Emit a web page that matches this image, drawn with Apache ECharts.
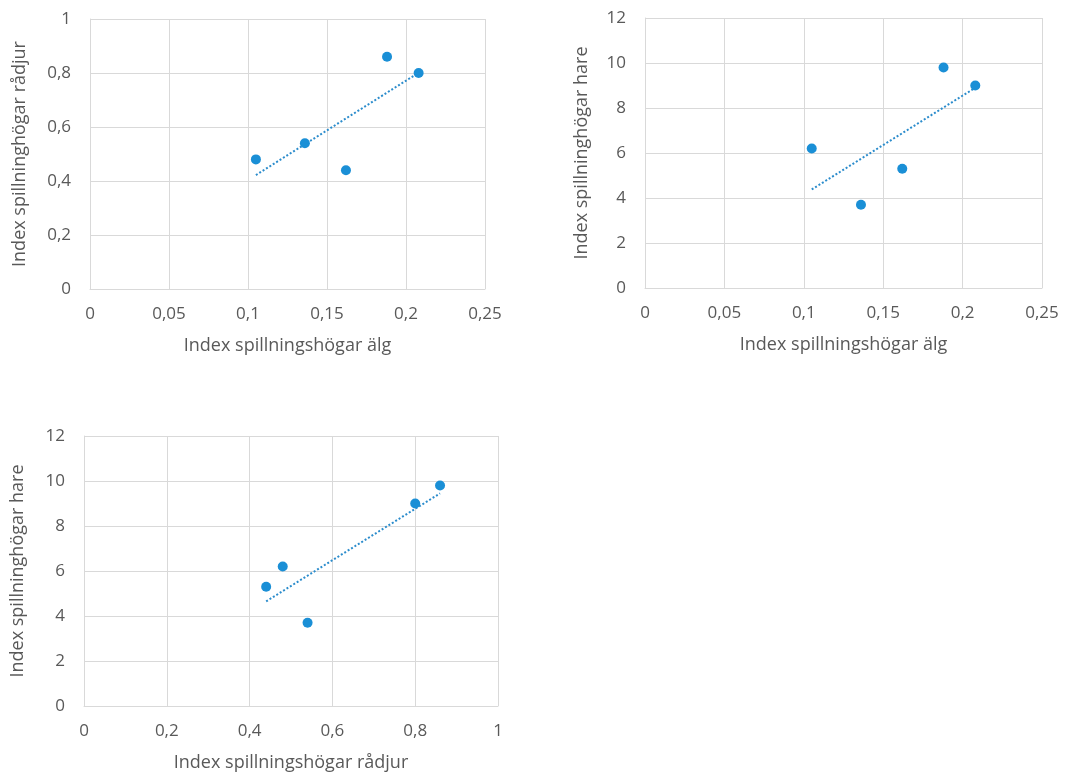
<!DOCTYPE html>
<html>
<head>
<meta charset="utf-8">
<script src="https://cdn.jsdelivr.net/npm/echarts@6/dist/echarts.min.js"></script>
<style>
  html, body { margin: 0; padding: 0; background: #fff; }
  #main { width: 1072px; height: 774px; }
</style>
</head>
<body>
<div id="main"></div>
<script>
  // index values per site
  var alg = [0.105, 0.136, 0.162, 0.188, 0.208];
  var radjur = [0.48, 0.54, 0.44, 0.86, 0.80];
  var hare = [6.2, 3.7, 5.3, 9.8, 9.0];

  // trend line end points (x0, y0, x1, y1) as drawn in the picture
  var trendAlgRadjur = [0.105, 0.422, 0.208, 0.801];
  var trendAlgHare = [0.105, 4.38, 0.208, 8.90];
  var trendRadjurHare = [0.44, 4.65, 0.86, 9.45];

  var titleAlg = 'Index spillningshögar älg';
  var titleRadjurX = 'Index spillningshögar rådjur';
  var titleRadjurY = 'Index spillninghögar rådjur';
  var titleHare = 'Index spillninghögar hare';

  var textColor = '#595959';
  var gridColor = '#d9d9d9';
  var dotColor = '#1a8fd6';
  var fontFamily = 'Open Sans';

  function fmt(v) {
    return String(v).replace('.', ',');
  }

  function pairs(xs, ys) {
    var out = [];
    for (var i = 0; i < xs.length; i++) out.push([xs[i], ys[i]]);
    return out;
  }

  function xAxis(gi, max, interval, name) {
    return {
      type: 'value', gridIndex: gi, min: 0, max: max, interval: interval,
      name: name, nameLocation: 'middle', nameGap: 48,
      nameTextStyle: { color: textColor, fontSize: 18, fontFamily: fontFamily },
      axisLine: { show: true, lineStyle: { color: gridColor } },
      axisTick: { show: false },
      splitLine: { lineStyle: { color: gridColor } },
      axisLabel: { color: textColor, fontSize: 17, fontFamily: fontFamily, margin: 17, formatter: fmt }
    };
  }

  function yAxis(gi, max, interval, name, gap) {
    return {
      type: 'value', gridIndex: gi, min: 0, max: max, interval: interval,
      name: name, nameLocation: 'middle', nameGap: gap,
      nameTextStyle: { color: textColor, fontSize: 18, fontFamily: fontFamily },
      axisLine: { show: true, lineStyle: { color: gridColor } },
      axisTick: { show: false },
      splitLine: { lineStyle: { color: gridColor } },
      axisLabel: { color: textColor, fontSize: 17, fontFamily: fontFamily, margin: 19, formatter: fmt }
    };
  }

  function scatter(gi, data) {
    return {
      type: 'scatter', xAxisIndex: gi, yAxisIndex: gi, data: data,
      symbolSize: 10, itemStyle: { color: dotColor, opacity: 1 }, z: 3
    };
  }

  function trend(gi, t) {
    return {
      type: 'line', xAxisIndex: gi, yAxisIndex: gi,
      data: [[t[0], t[1]], [t[2], t[3]]],
      symbol: 'none', z: 2,
      lineStyle: { color: '#2b8ccc', width: 2, type: [2, 2] }
    };
  }

  var chart = echarts.init(document.getElementById('main'));
  chart.setOption({
    animation: false,
    grid: [
      { left: 90, top: 19, width: 395, height: 270 },
      { left: 645, top: 18, width: 397, height: 270 },
      { left: 84, top: 436, width: 414, height: 270 }
    ],
    xAxis: [
      xAxis(0, 0.25, 0.05, titleAlg),
      xAxis(1, 0.25, 0.05, titleAlg),
      xAxis(2, 1, 0.2, titleRadjurX)
    ],
    yAxis: [
      yAxis(0, 1, 0.2, titleRadjurY, 61),
      yAxis(1, 12, 2, titleHare, 54),
      yAxis(2, 12, 2, titleHare, 57)
    ],
    series: [
      trend(0, trendAlgRadjur),
      scatter(0, pairs(alg, radjur)),
      trend(1, trendAlgHare),
      scatter(1, pairs(alg, hare)),
      trend(2, trendRadjurHare),
      scatter(2, pairs(radjur, hare))
    ]
  });
</script>
</body>
</html>
